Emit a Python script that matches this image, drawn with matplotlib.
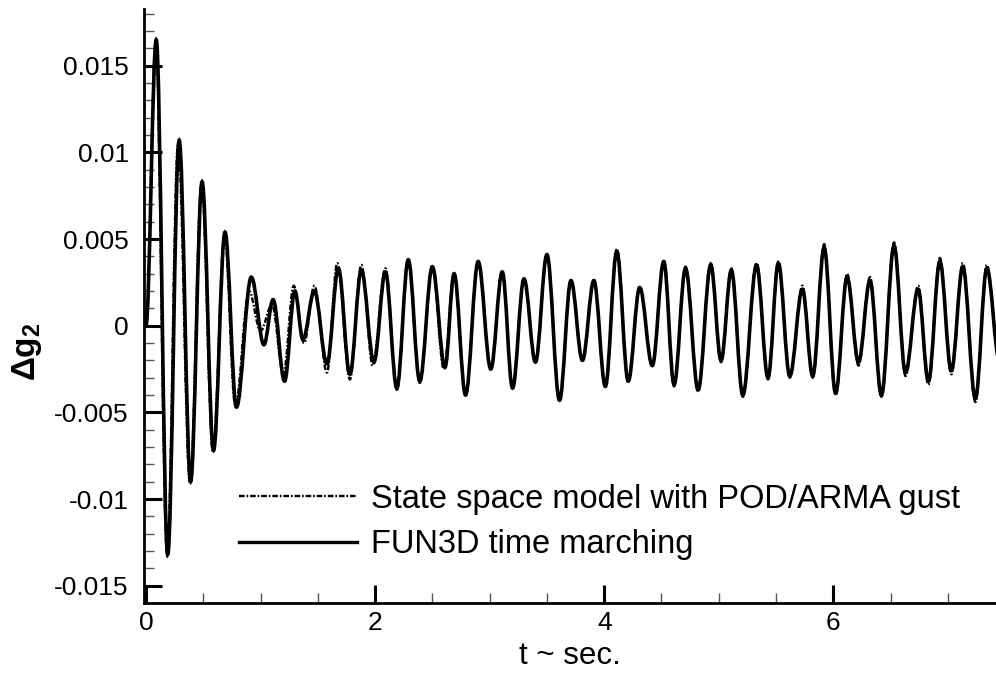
import matplotlib
matplotlib.use('Agg')
import matplotlib.pyplot as plt
from matplotlib.path import Path
from matplotlib.patches import PathPatch
from matplotlib.lines import Line2D
from matplotlib.ticker import MultipleLocator, FuncFormatter

plt.rcParams['font.family'] = ['Liberation Sans', 'DejaVu Sans']
plt.rcParams['mathtext.fontset'] = 'custom'
plt.rcParams['mathtext.rm'] = 'Liberation Sans'
plt.rcParams['mathtext.bf'] = 'Liberation Sans:bold'

# peaks / troughs (t in sec, delta g2)
t_fun3d = [0.00, 0.09, 0.19, 0.29, 0.39, 0.49, 0.59, 0.69, 0.79, 0.92,
           1.03, 1.11, 1.21, 1.30, 1.37, 1.47, 1.58, 1.68, 1.78, 1.88,
           1.99, 2.09, 2.19, 2.29, 2.39, 2.50, 2.61, 2.69, 2.79, 2.90,
           3.01, 3.11, 3.20, 3.30, 3.40, 3.50, 3.61, 3.71, 3.81, 3.91,
           4.01, 4.11, 4.21, 4.31, 4.42, 4.52, 4.61, 4.71, 4.82, 4.93,
           5.02, 5.11, 5.21, 5.33, 5.43, 5.52, 5.62, 5.73, 5.82, 5.92,
           6.02, 6.12, 6.22, 6.32, 6.42, 6.53, 6.63, 6.74, 6.83, 6.93,
           7.03, 7.13, 7.24, 7.34, 7.45]
g_fun3d = [0.0, 0.0165, -0.0132, 0.0107, -0.0090, 0.0083, -0.0072, 0.0054, -0.0047, 0.0028,
           -0.0011, 0.0015, -0.0032, 0.0020, -0.0008, 0.0020, -0.0022, 0.0033, -0.0028, 0.0032,
           -0.0021, 0.0031, -0.0036, 0.0038, -0.0032, 0.0034, -0.0024, 0.0030, -0.0040, 0.0037,
           -0.0025, 0.0031, -0.0036, 0.0027, -0.0021, 0.0041, -0.0043, 0.0026, -0.0020, 0.0026,
           -0.0035, 0.0043, -0.0032, 0.0022, -0.0023, 0.0037, -0.0034, 0.0033, -0.0037, 0.0035,
           -0.0020, 0.0032, -0.0040, 0.0035, -0.0030, 0.0036, -0.0029, 0.0021, -0.0029, 0.0045,
           -0.0039, 0.0028, -0.0021, 0.0026, -0.0040, 0.0046, -0.0027, 0.0021, -0.0032, 0.0037,
           -0.0026, 0.0034, -0.0042, 0.0033, -0.0020]

t_ss = [0.00, 0.085, 0.185, 0.28, 0.385, 0.485, 0.585, 0.685, 0.78, 0.90,
        1.00, 1.10, 1.20, 1.29, 1.38, 1.47, 1.58, 1.67, 1.78, 1.88,
        1.98, 2.09, 2.19, 2.29, 2.39, 2.50, 2.60, 2.69, 2.79, 2.90,
        3.01, 3.11, 3.20, 3.30, 3.40, 3.50, 3.61, 3.71, 3.81, 3.91,
        4.01, 4.11, 4.21, 4.31, 4.42, 4.52, 4.61, 4.71, 4.82, 4.93,
        5.02, 5.11, 5.21, 5.33, 5.43, 5.52, 5.62, 5.73, 5.82, 5.92,
        6.02, 6.12, 6.22, 6.32, 6.42, 6.53, 6.63, 6.74, 6.83, 6.93,
        7.03, 7.13, 7.24, 7.34, 7.45]
g_ss = [0.0, 0.0163, -0.0133, 0.0105, -0.0091, 0.0082, -0.0073, 0.0052, -0.0046, 0.0020,
        -0.0003, 0.0012, -0.0028, 0.0023, -0.0010, 0.0023, -0.0027, 0.0036, -0.0031, 0.0035,
        -0.0023, 0.0033, -0.0037, 0.0038, -0.0033, 0.0034, -0.0025, 0.0030, -0.0040, 0.0037,
        -0.0025, 0.0031, -0.0036, 0.0027, -0.0021, 0.0041, -0.0043, 0.0026, -0.0020, 0.0026,
        -0.0035, 0.0044, -0.0032, 0.0022, -0.0023, 0.0037, -0.0035, 0.0034, -0.0038, 0.0036,
        -0.0021, 0.0033, -0.0041, 0.0036, -0.0031, 0.0037, -0.0030, 0.0023, -0.0030, 0.0047,
        -0.0040, 0.0030, -0.0023, 0.0028, -0.0041, 0.0048, -0.0029, 0.0023, -0.0034, 0.0039,
        -0.0028, 0.0036, -0.0044, 0.0035, -0.0021]

labels = ['State space model with POD/ARMA gust', 'FUN3D time marching']

dash = (0, (2.4, 0.8, 0.7, 0.8))


def wave_path(ts, gs, k=0.363):
    # smooth curve through the extrema, flat tangent at each one
    verts = [(ts[0], gs[0])]
    codes = [Path.MOVETO]
    for i in range(1, len(ts)):
        dt = ts[i] - ts[i - 1]
        verts += [(ts[i - 1] + k * dt, gs[i - 1]), (ts[i] - k * dt, gs[i]), (ts[i], gs[i])]
        codes += [Path.CURVE4] * 3
    return Path(verts, codes)


fig = plt.figure(figsize=(9.96, 6.77), dpi=100)
ax = fig.add_axes([144 / 996, 1 - 603 / 677, (996 - 144) / 996, (603 - 9) / 677])

ax.add_patch(PathPatch(wave_path(t_fun3d, g_fun3d), fill=False, color='black', lw=2.6, zorder=2))
ax.add_patch(PathPatch(wave_path(t_ss, g_ss), fill=False, color='black', lw=1.7, ls=dash, zorder=3))

ax.set_xlim(-0.017, 7.42)
ax.set_ylim(-0.016, 0.01827)

for s in ['top', 'right']:
    ax.spines[s].set_visible(False)
for s in ['left', 'bottom']:
    ax.spines[s].set_linewidth(2.0)

ax.xaxis.set_major_locator(MultipleLocator(2))
ax.xaxis.set_minor_locator(MultipleLocator(0.5))
ax.yaxis.set_major_locator(MultipleLocator(0.005))
ax.yaxis.set_minor_locator(MultipleLocator(0.001))
ax.yaxis.set_major_formatter(FuncFormatter(lambda v, p: '%g' % round(v, 6)))
ax.tick_params(which='major', direction='in', length=13, width=2.2, labelsize=19, pad=6)
ax.tick_params(which='minor', direction='in', length=7, width=1.0, color='#555555')
ax.tick_params(axis='y', which='major', pad=11)
ax.tick_params(top=False, right=False, which='both')

ax.set_xlabel('t ~ sec.', fontsize=22.5, labelpad=4)
fig.text(0.027, 1 - 352 / 677, r'$\mathbf{\Delta g}_{\mathbf{2}}$', rotation=90,
         ha='center', va='center', fontsize=24)

handles = [Line2D([], [], color='black', lw=1.7, ls=dash),
           Line2D([], [], color='black', lw=2.4)]
ax.legend(handles, labels, loc='upper left', bbox_to_anchor=(0.112, 0.2005),
          frameon=False, fontsize=23.5, handlelength=3.6, handletextpad=0.43,
          labelspacing=0.43, borderpad=0, borderaxespad=0)

fig.savefig('out.png', dpi=100)
